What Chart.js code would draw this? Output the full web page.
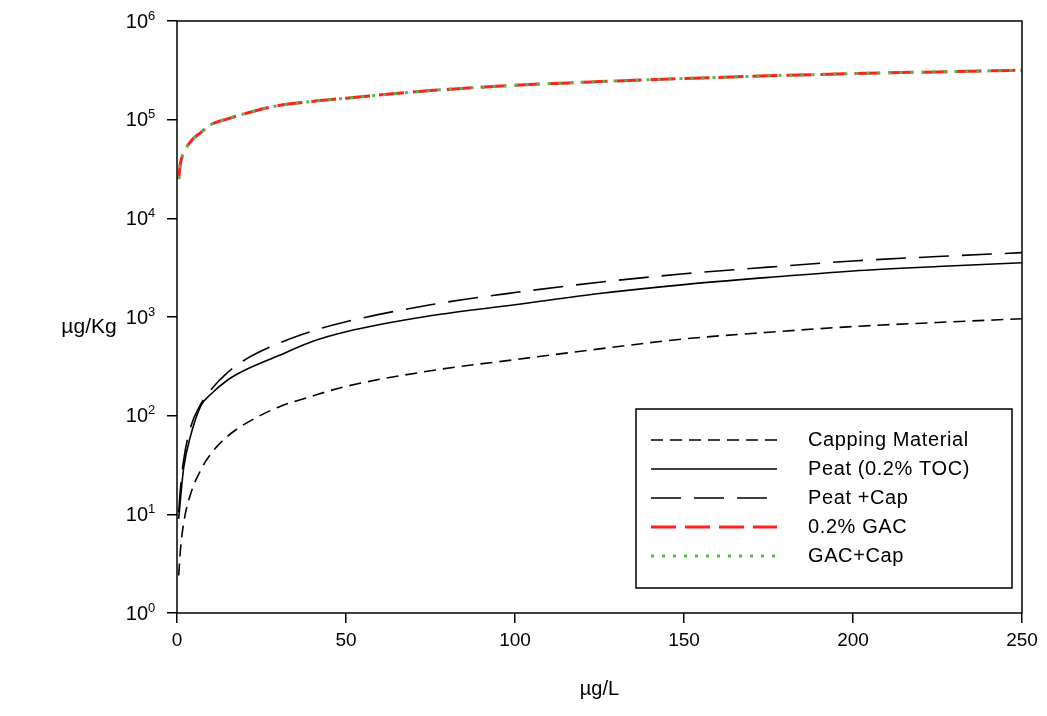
<!DOCTYPE html>
<html>
<head>
<meta charset="utf-8">
<title>Isotherms</title>
<script src="https://cdn.jsdelivr.net/npm/chart.js@4"></script>
<style>
  html, body { margin: 0; padding: 0; background: #fff; }
  #wrap { width: 1047px; height: 716px; }
</style>
</head>
<body>
<div id="wrap"><canvas id="isoChart" width="1047" height="716"></canvas></div>
<script>
// values (x in ug/L, y in ug/Kg)
const xValues = [0.5, 1, 2, 4, 7, 10, 15, 20, 30, 40, 50, 75, 100, 125, 150, 175, 200, 225, 250];
const capping = [2.4, 4.3, 8.3, 16, 28, 41, 62, 82, 122, 158, 198, 285, 370, 475, 600, 700, 800, 880, 960];
const peat = [9, 14, 30, 62, 125, 165, 230, 288, 405, 565, 710, 1030, 1330, 1730, 2130, 2520, 2930, 3250, 3550];
const peatCap = [10.5, 18, 36, 76, 130, 183, 275, 367, 540, 720, 895, 1330, 1770, 2250, 2740, 3200, 3700, 4100, 4490];
const gac = [25000, 36000, 46000, 60000, 74000, 89000, 102000, 115000, 139000, 153000, 165000, 197000, 223000, 243000, 261000, 278000, 293000, 305000, 317000];
const gacCap = [25000, 36000, 46000, 60000, 74000, 89000, 102000, 115000, 139000, 153000, 165000, 197000, 223000, 243000, 261000, 278000, 293000, 305000, 317000];

const xTicks = [0, 50, 100, 150, 200, 250];
const yTicks = [1, 10, 100, 1000, 10000, 100000, 1000000];

const FONT = "'Liberation Sans', Arial, sans-serif";

const toPoints = (ys) => ys.map((y, i) => ({ x: xValues[i], y }));

// frame, y tick labels with superscripts, y title and the boxed legend
const decorations = {
  id: 'decorations',
  afterDraw(chart) {
    const { ctx, chartArea } = chart;
    const yScale = chart.scales.y;
    ctx.save();

    ctx.strokeStyle = '#000';
    ctx.lineWidth = 1.5;
    ctx.strokeRect(chartArea.left, chartArea.top, chartArea.right - chartArea.left, chartArea.bottom - chartArea.top);

    ctx.fillStyle = '#000';
    ctx.textBaseline = 'middle';
    yTicks.forEach(v => {
      const py = yScale.getPixelForValue(v);
      const exp = String(Math.round(Math.log10(v)));
      ctx.font = '20px ' + FONT;
      ctx.textAlign = 'right';
      ctx.fillText('10', chartArea.left - 29, py + 1);
      ctx.font = '13px ' + FONT;
      ctx.textAlign = 'left';
      ctx.fillText(exp, chartArea.left - 29, py - 5);
    });

    ctx.font = '21px ' + FONT;
    ctx.textAlign = 'center';
    ctx.fillText('\u00b5g/Kg', chartArea.left - 88, (chartArea.top + chartArea.bottom) / 2 + 10);

    // legend
    const w = 376, h = 179;
    const x0 = chartArea.right - 10 - w;
    const y0 = chartArea.bottom - 25 - h;
    ctx.lineWidth = 1.5;
    ctx.strokeStyle = '#000';
    ctx.strokeRect(x0, y0, w, h);
    chart.data.datasets.forEach((ds, i) => {
      const y = y0 + 31 + i * 29;
      ctx.beginPath();
      ctx.setLineDash(ds.borderDash || []);
      ctx.lineWidth = ds.borderWidth;
      ctx.strokeStyle = ds.borderColor;
      ctx.lineCap = 'butt';
      ctx.moveTo(x0 + 15, y);
      ctx.lineTo(x0 + 141, y);
      ctx.stroke();
      ctx.setLineDash([]);
      ctx.fillStyle = '#000';
      ctx.font = '20px ' + FONT;
      ctx.letterSpacing = '0.6px';
      ctx.textAlign = 'left';
      ctx.fillText(ds.label, x0 + 172, y);
      ctx.letterSpacing = '0px';
    });
    ctx.restore();
  }
};

const ctx = document.getElementById('isoChart').getContext('2d');
new Chart(ctx, {
  type: 'line',
  data: {
    datasets: [
      { label: 'Capping Material', data: toPoints(capping), borderColor: '#000', borderWidth: 1.6, borderDash: [12, 7] },
      { label: 'Peat (0.2% TOC)', data: toPoints(peat), borderColor: '#000', borderWidth: 1.6, borderDash: [] },
      { label: 'Peat +Cap', data: toPoints(peatCap), borderColor: '#000', borderWidth: 1.6, borderDash: [30, 13] },
      { label: '0.2% GAC', data: toPoints(gac), borderColor: '#ff1f1f', borderWidth: 3, borderDash: [25, 9], order: 2 },
      { label: 'GAC+Cap', data: toPoints(gacCap), borderColor: '#55b947', borderWidth: 3, borderDash: [3, 8], order: 1 }
    ]
  },
  options: {
    responsive: false,
    animation: false,
    layout: { padding: { top: 21, right: 25, left: 0, bottom: 0 } },
    elements: {
      point: { radius: 0 },
      line: { cubicInterpolationMode: 'monotone', fill: false }
    },
    plugins: {
      legend: { display: false },
      tooltip: { enabled: false }
    },
    scales: {
      x: {
        type: 'linear',
        min: 0,
        max: 250,
        afterBuildTicks: (scale) => { scale.ticks = xTicks.map(v => ({ value: v })); },
        afterFit: (scale) => { scale.height = 103; },
        border: { display: false },
        grid: { drawOnChartArea: false, drawTicks: true, tickLength: 10, color: '#000', lineWidth: 1.5 },
        ticks: { color: '#000', font: { family: FONT, size: 19 }, padding: 6, maxRotation: 0 },
        title: { display: true, text: '\u00b5g/L', color: '#000', font: { family: FONT, size: 20 }, padding: { top: 0, bottom: 15 } }
      },
      y: {
        type: 'logarithmic',
        min: 1,
        max: 1000000,
        afterBuildTicks: (scale) => { scale.ticks = yTicks.map(v => ({ value: v })); },
        afterFit: (scale) => { scale.width = 177; },
        border: { display: false },
        grid: { drawOnChartArea: false, drawTicks: true, tickLength: 10, color: '#000', lineWidth: 1.5 },
        ticks: { display: false }
      }
    }
  },
  plugins: [decorations]
});
</script>
</body>
</html>
